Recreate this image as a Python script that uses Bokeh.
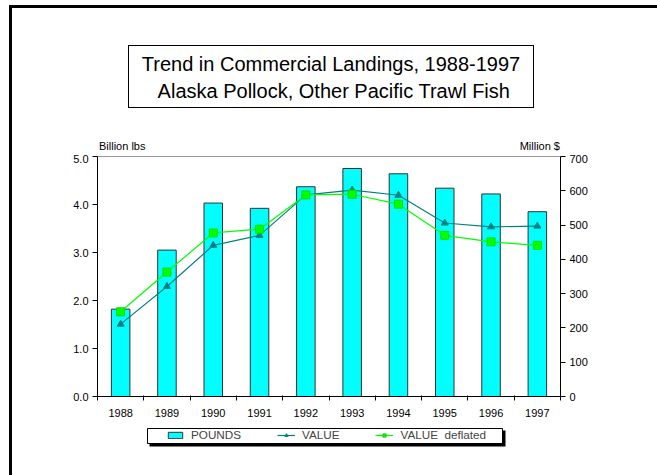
from bokeh.plotting import figure
from bokeh.models import (Range1d, LinearAxis, FixedTicker, Legend, LegendItem, Div,
                          ColumnDataSource, PrintfTickFormatter)
from bokeh.layouts import column
from bokeh.embed import file_html
from bokeh.resources import INLINE

title_lines = ["Trend in Commercial Landings, 1988-1997", "Alaska Pollock, Other Pacific Trawl Fish"]
left_unit = "Billion lbs"
right_unit = "Million $"
years = ["1988", "1989", "1990", "1991", "1992", "1993", "1994", "1995", "1996", "1997"]
pounds = [1.82, 3.05, 4.03, 3.92, 4.37, 4.75, 4.64, 4.34, 4.22, 3.85]          # billion lbs
value = [211, 321, 441, 470, 588, 602, 587, 506, 495, 497]                  # million $
value_deflated = [247, 363, 477, 488, 588, 590, 561, 470, 451, 441]         # million $
left_ticks = [0, 1, 2, 3, 4, 5]
right_ticks = [0, 100, 200, 300, 400, 500, 600, 700]
series_names = ["POUNDS", "VALUE", "VALUE  deflated"]

xs = list(range(1, len(years) + 1))
src = ColumnDataSource(dict(x=xs, pounds=pounds, value=value, defl=value_deflated))

FONT = "Liberation Sans"
BAR = dict(fill_color="#00FFFF", line_color="#333333", line_width=1)
VAL_LINE = dict(line_color="#008080", line_width=1.2)
VAL_MARK = dict(marker="triangle", size=7, fill_color="#008080", line_color="#008080")
DEF_LINE = dict(line_color="#00FF00", line_width=1.2)
DEF_MARK = dict(marker="square", size=8, fill_color="#00FF00", line_color="#00DD00")

# ---- header (title box + unit labels) ----
header_html = f"""
<div style="position:relative;width:645px;height:146px;font-family:'{FONT}';color:black;">
  <div style="position:absolute;left:116px;top:37px;width:406px;height:63px;box-sizing:border-box;
              border:1px solid black;background:white;text-align:center;font-size:20px;line-height:26.7px;
              padding-top:5px;white-space:pre;">{title_lines[0]}<br>&nbsp;{title_lines[1]}</div>
  <div style="position:absolute;left:87px;top:133px;font-size:11px;line-height:11px;white-space:nowrap;">{left_unit}</div>
  <div style="position:absolute;left:448px;top:133px;width:100px;text-align:right;font-size:11px;line-height:11px;white-space:nowrap;">{right_unit}</div>
</div>
"""
header = Div(text=header_html, width=645, height=146, margin=0)

# ---- chart ----
p = figure(width=645, height=268, output_backend="svg", toolbar_location=None,
           x_range=Range1d(0.5, len(years) + 0.5), y_range=Range1d(0, 5),
           x_axis_type=None, y_axis_type=None, margin=0,
           min_border_left=85, min_border_right=97, min_border_top=2, min_border_bottom=26)
p.extra_y_ranges = {"usd": Range1d(0, 700)}
p.xgrid.visible = False
p.ygrid.visible = False
p.outline_line_color = "#999999"
p.outline_line_width = 1
p.background_fill_color = "white"
p.border_fill_color = "white"

yl = LinearAxis(ticker=FixedTicker(ticks=left_ticks), formatter=PrintfTickFormatter(format="%.1f"))
yr = LinearAxis(y_range_name="usd", ticker=FixedTicker(ticks=right_ticks))
xa = LinearAxis(ticker=FixedTicker(ticks=xs, minor_ticks=[x + 0.5 for x in [0] + xs]))
xa.major_label_overrides = {x: y for x, y in zip(xs, years)}
for ax in (yl, yr, xa):
    ax.axis_line_color = "black"
    ax.axis_line_width = 1
    ax.major_tick_line_color = "black"
    ax.minor_tick_line_color = "black"
    ax.major_label_text_font = FONT
    ax.major_label_text_font_size = "11px"
    ax.major_label_text_color = "black"
    ax.major_tick_in = 0
    ax.major_tick_out = 5
    ax.minor_tick_in = 0
    ax.minor_tick_out = 0
    ax.major_label_standoff = 4
xa.major_tick_out = 0
xa.minor_tick_in = 1
xa.minor_tick_out = 4
xa.major_label_standoff = 8
p.add_layout(yl, "left")
p.add_layout(yr, "right")
p.add_layout(xa, "below")

p.vbar(x="x", top="pounds", width=0.4, bottom=0, source=src, **BAR)
p.line(x="x", y="value", source=src, y_range_name="usd", **VAL_LINE)
p.scatter(x="x", y="value", source=src, y_range_name="usd", **VAL_MARK)
p.line(x="x", y="defl", source=src, y_range_name="usd", **DEF_LINE)
p.scatter(x="x", y="defl", source=src, y_range_name="usd", **DEF_MARK)

# ---- legend strip (its frame is aligned with the chart frame; 1 data unit = 1 px) ----
lg = figure(width=645, height=53, output_backend="svg", toolbar_location=None,
            x_range=Range1d(0, 463), y_range=Range1d(0, 53), margin=0,
            x_axis_location=None, y_axis_location=None, min_border=0)
# proxies for the legend icons are mapped far out of view
lg.extra_x_ranges = {"offx": Range1d(1000, 1100)}
lg.extra_y_ranges = {"offy": Range1d(100000, 110000)}
lg.xgrid.visible = False
lg.ygrid.visible = False
lg.outline_line_color = None
lg.border_fill_color = "white"
lg.background_fill_color = "white"
# legend box with drop shadow
lg.quad(left=[52], right=[408], bottom=[29], top=[45], fill_color="black", line_color=None)
lg.quad(left=[50], right=[405], bottom=[32], top=[47], fill_color="white", line_color="black", line_width=1)
OFF = dict(source=src, x_range_name="offx", y_range_name="offy")
rb = lg.vbar(x="x", top="pounds", width=0.4, **OFF, **BAR)
rl1 = lg.line(x="x", y="value", **OFF, **VAL_LINE)
rm1 = lg.scatter(x="x", y="value", **OFF, **VAL_MARK)
rl2 = lg.line(x="x", y="defl", **OFF, **DEF_LINE)
rm2 = lg.scatter(x="x", y="defl", **OFF, **DEF_MARK)
legend = Legend(items=[LegendItem(label=series_names[0], renderers=[rb]),
                       LegendItem(label=series_names[1], renderers=[rl1, rm1]),
                       LegendItem(label=series_names[2], renderers=[rl2, rm2])],
                orientation="horizontal", location=(69, 34),
                label_text_font=FONT, label_text_font_size="11.7px",
                border_line_color=None, background_fill_alpha=0,
                glyph_width=18, glyph_height=8, label_standoff=7, spacing=36,
                padding=0, margin=0, label_height=11)
lg.add_layout(legend)

page = column(header, p, lg, margin=(5, 0, 0, 9), spacing=0,
              styles={"border-top": "3px solid black", "border-left": "3px solid black"})

open("out.html", "w").write(file_html(page, INLINE))
